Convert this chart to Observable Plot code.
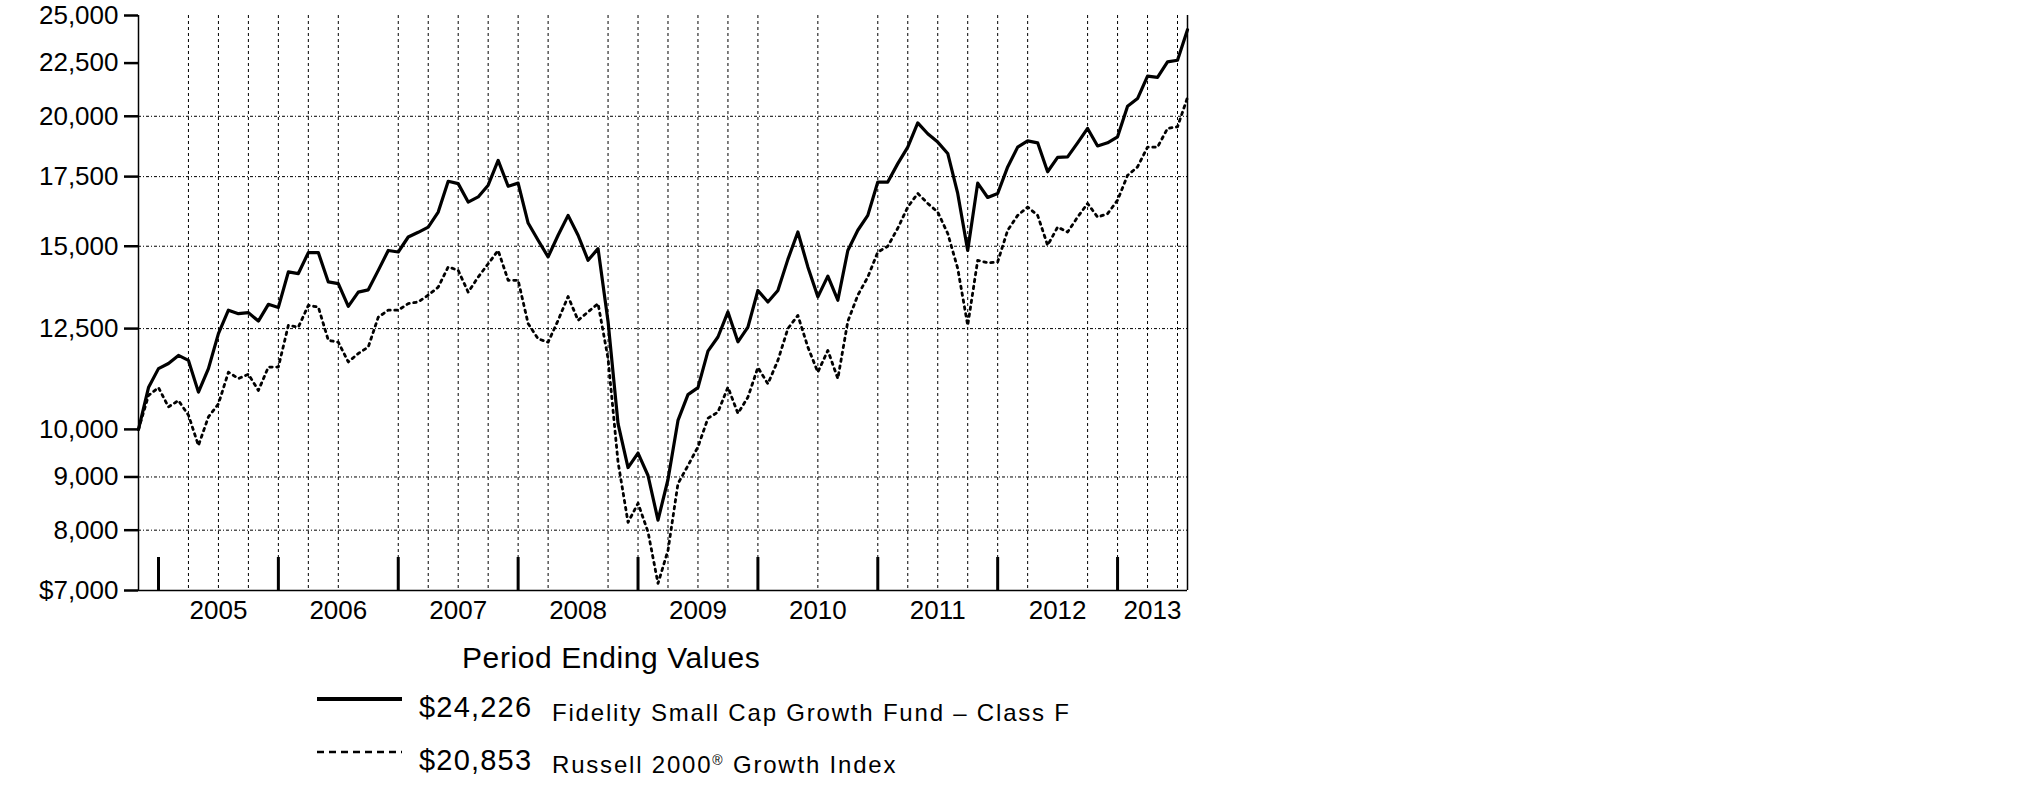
<!DOCTYPE html>
<html><head><meta charset="utf-8">
<script src="https://cdn.jsdelivr.net/npm/d3@7"></script>
<script src="https://cdn.jsdelivr.net/npm/@observablehq/plot@0.6"></script>
<style>
body{margin:0;background:#fff;}
#wrap{position:relative;width:2025px;height:806px;background:#fff;}
#wrap svg{position:absolute;left:0;}
</style></head><body><div id="wrap"></div>
<script>
// month index 0 = Oct 2004 (start, $10,000) ... 105 = Jul 2013
const months = d3.range(106);
const fundValues = [10000,10970,11440,11570,11780,11650,10860,11440,12360,13020,12920,12950,12710,13190,13100,
 14170,14120,14790,14790,13860,13810,13130,13550,13620,14220,14860,14810,15310,15470,15650,16180,17320,17230,
 16540,16730,17170,18140,17130,17250,15790,15200,14650,15370,16060,15370,14540,14920,12700,10130,9190,9490,
 9030,8180,8950,10200,10800,10970,11890,12270,12970,12140,12540,13600,13260,13600,14570,15480,14330,13410,
 14040,13310,14860,15540,16060,17290,17290,18010,18680,19710,19240,18890,18420,16860,14860,17250,16710,16860,
 17880,18680,18940,18860,17690,18260,18280,18860,19470,18730,18860,19110,20450,20800,21860,21800,22560,22640,24226];
const indexValues = [10000,10780,10970,10510,10660,10320,9650,10280,10580,11350,11190,11300,10900,11480,11480,
 12590,12540,13160,13110,12180,12130,11610,11830,12000,12820,13020,13020,13210,13260,13460,13700,14330,14220,
 13550,14010,14430,14860,13910,13910,12640,12220,12130,12730,13420,12730,12970,13210,11700,9300,8140,8490,
 7970,7110,7650,8870,9230,9620,10250,10390,10980,10360,10740,11470,11060,11650,12500,12870,12000,11350,
 11910,11190,12700,13460,14010,14810,15000,15610,16360,16860,16490,16180,15430,14280,12590,14540,14460,14490,
 15540,16060,16360,16060,15030,15650,15480,16000,16490,16000,16120,16610,17550,17880,18680,18680,19470,19540,20853];
const gridMonths = [5,8,11,14,17,20,26,29,32,35,38,41,47,50,53,56,59,62,68,74,77,80,83,86,89,95,98,101,104];
const yearTickMonths = [2,14,26,38,50,62,74,86,98];
const yearLabels = ["2005","2006","2007","2008","2009","2010","2011","2012","2013"];
const yearLabelMonths = [8,20,32,44,56,68,80,92,101.5];
const yTicks = [7000,8000,9000,10000,12500,15000,17500,20000,22500,25000];
const yGrid = [8000,9000,12500,15000,17500,20000];
const legendTitle = "Period Ending Values";
const legendValues = ["$24,226","$20,853"];
const seriesNames = ["Fidelity Small Cap Growth Fund \u2013 Class F","Russell 2000"];

const fundRows = months.map((m,i)=>({m, v: fundValues[i]}));
const indexRows = months.map((m,i)=>({m, v: indexValues[i]}));
const labelByMonth = new Map(yearLabelMonths.map((m,i)=>[m, yearLabels[i]]));
const fmt = d3.format(",");

const W = 1250, H = 640, MT = 15, MB = 50;
const plot = Plot.plot({
  width: W, height: H,
  marginLeft: 138, marginRight: 63, marginTop: MT, marginBottom: MB,
  style: {fontFamily: "'Liberation Sans', Arial, sans-serif", fontSize: "26px", color: "#000", background: "#fff"},
  x: {type: "linear", domain: [0, 105]},
  y: {type: "log", domain: [7000, 25000]},
  marks: [
    Plot.ruleX(gridMonths, {stroke: "#000", strokeWidth: 1, strokeDasharray: "3,3"}),
    Plot.ruleY(yGrid, {stroke: "#000", strokeWidth: 1, strokeDasharray: "3,2,1,2"}),
    Plot.line(indexRows, {x: "m", y: "v", stroke: "#000", strokeWidth: 2.8, strokeDasharray: "2.5,4.5"}),
    Plot.line(fundRows, {x: "m", y: "v", stroke: "#000", strokeWidth: 3.2}),
    Plot.ruleX([0, 105], {stroke: "#000", strokeWidth: 1.5}),
    Plot.ruleY([7000], {stroke: "#000", strokeWidth: 1.5}),
    Plot.ruleX(yearTickMonths, {stroke: "#000", strokeWidth: 3, insetTop: H - MT - MB - 33}),
    Plot.axisY({ticks: yTicks, tickSize: 14, tickPadding: 6, strokeWidth: 2.5, fontSize: 26,
      tickFormat: d => d === 7000 ? "$" + fmt(d) : fmt(d), label: null}),
    Plot.axisX({ticks: yearLabelMonths, tickSize: 0, tickPadding: 10, fontSize: 26,
      tickFormat: d => labelByMonth.get(d), label: null})
  ]
});
plot.style.top = "0px";
document.getElementById("wrap").appendChild(plot);

// legend below the chart
const lg = d3.select("#wrap").append("svg")
  .attr("width", 1200).attr("height", 166)
  .style("top", "640px")
  .style("font-family", "'Liberation Sans', Arial, sans-serif");
lg.append("text").attr("x", 462).attr("y", 28).attr("font-size", 30).attr("letter-spacing", 0.6).text(legendTitle);
const rows = [{dash: null, w: 4, ly: 59, vy: 77, ny: 81}, {dash: "7,5", w: 2.5, ly: 112, vy: 130, ny: 133}];
rows.forEach((r, i) => {
  lg.append("line").attr("x1", 317).attr("x2", 402).attr("y1", r.ly).attr("y2", r.ly)
    .attr("stroke", "#000").attr("stroke-width", r.w).attr("stroke-dasharray", r.dash);
  lg.append("text").attr("x", 419).attr("y", r.vy).attr("font-size", 29).attr("letter-spacing", 1.2).text(legendValues[i]);
  const t = lg.append("text").attr("x", 552).attr("y", r.ny).attr("font-size", 24).attr("letter-spacing", 1.8);
  t.append("tspan").text(seriesNames[i]);
  if (i === 1) {
    t.append("tspan").attr("font-size", 14).attr("baseline-shift", "super").text("\u00AE");
    t.append("tspan").text(" Growth Index");
  }
});
</script></body></html>
